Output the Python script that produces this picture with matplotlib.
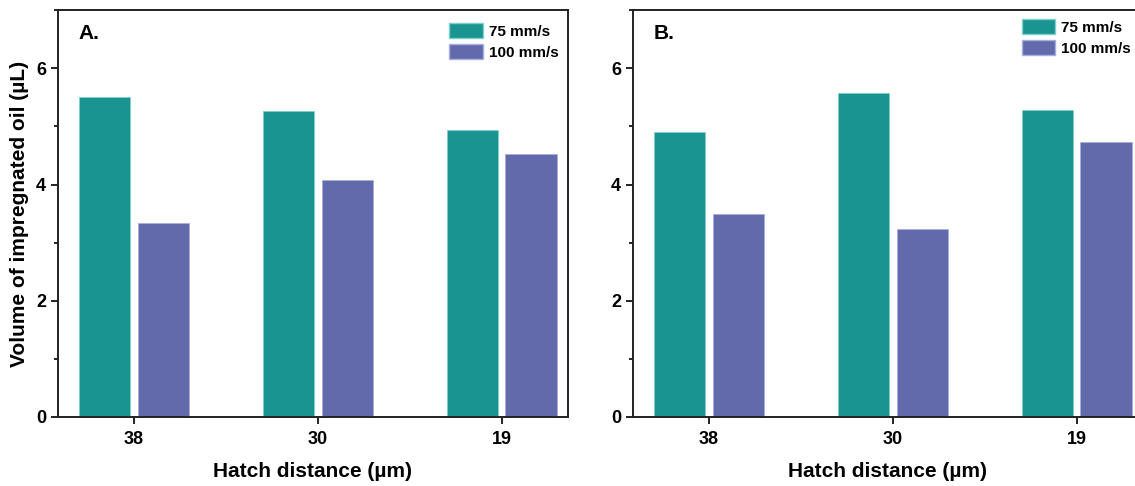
import matplotlib

matplotlib.use("Agg")

import matplotlib.pyplot as plt
import numpy as np
from matplotlib.patches import Patch
from matplotlib.ticker import MultipleLocator

plt.rcParams["font.family"] = ["Liberation Sans", "DejaVu Sans"]
plt.rcParams["font.weight"] = "bold"

hatch_labels = ["38", "30", "19"]
series_names = ["75 mm/s", "100 mm/s"]
panel_a_75 = [5.50, 5.26, 4.94]
panel_a_100 = [3.34, 4.08, 4.53]
panel_b_75 = [4.90, 5.57, 5.28]
panel_b_100 = [3.50, 3.24, 4.73]

TEAL = "#1a9490"
PURPLE = "#636aab"


def draw_panel(ax, v75, v100, tag, legend_anchor):
    x = np.arange(1, len(hatch_labels) + 1)
    w = 0.28
    ax.bar(x - 0.16, v75, w, color=TEAL, edgecolor="#7fd0cc", linewidth=0.6)
    ax.bar(x + 0.16, v100, w, color=PURPLE, edgecolor="#a9aee0", linewidth=0.6)
    ax.set_xlim(0.587, 3.36)
    ax.set_ylim(0, 7)
    ax.set_xticks(x)
    ax.set_xticklabels(hatch_labels)
    ax.yaxis.set_major_locator(MultipleLocator(2))
    ax.yaxis.set_minor_locator(MultipleLocator(1))
    ax.tick_params(axis="both", which="major", length=5, width=1.2, labelsize=13, direction="out")
    ax.tick_params(axis="y", which="minor", length=3, width=1.2)
    ax.tick_params(axis="x", pad=5)
    for s in ax.spines.values():
        s.set_linewidth(1.4)
        s.set_color("#222222")
    ax.set_xlabel("Hatch distance (\u00b5m)", fontsize=15, fontweight="bold", labelpad=10)
    ax.text(0.04, 0.965, tag, transform=ax.transAxes, fontsize=15, fontweight="bold",
            va="top", ha="left")
    handles = [Patch(facecolor=TEAL, edgecolor="#7fd0cc"), Patch(facecolor=PURPLE, edgecolor="#a9aee0")]
    ax.legend(handles, series_names, loc="upper right", bbox_to_anchor=legend_anchor,
              frameon=False, prop={"weight": "bold", "size": 11},
              handlelength=2.2, handleheight=1.1, handletextpad=0.4, labelspacing=0.35,
              borderaxespad=0.2)


fig = plt.figure(figsize=(11.35, 4.86), dpi=100)
ax_a = fig.add_axes([0.0511, 0.142, 0.4493, 0.837])
ax_b = fig.add_axes([0.5577, 0.142, 0.4493, 0.837])

draw_panel(ax_a, panel_a_75, panel_a_100, "A.", (1.0, 0.99))
draw_panel(ax_b, panel_b_75, panel_b_100, "B.", (0.995, 1.0))
ax_a.set_ylabel("Volume of impregnated oil (\u00b5L)", fontsize=15, fontweight="bold", labelpad=5)

fig.savefig("out.png", dpi=100)
